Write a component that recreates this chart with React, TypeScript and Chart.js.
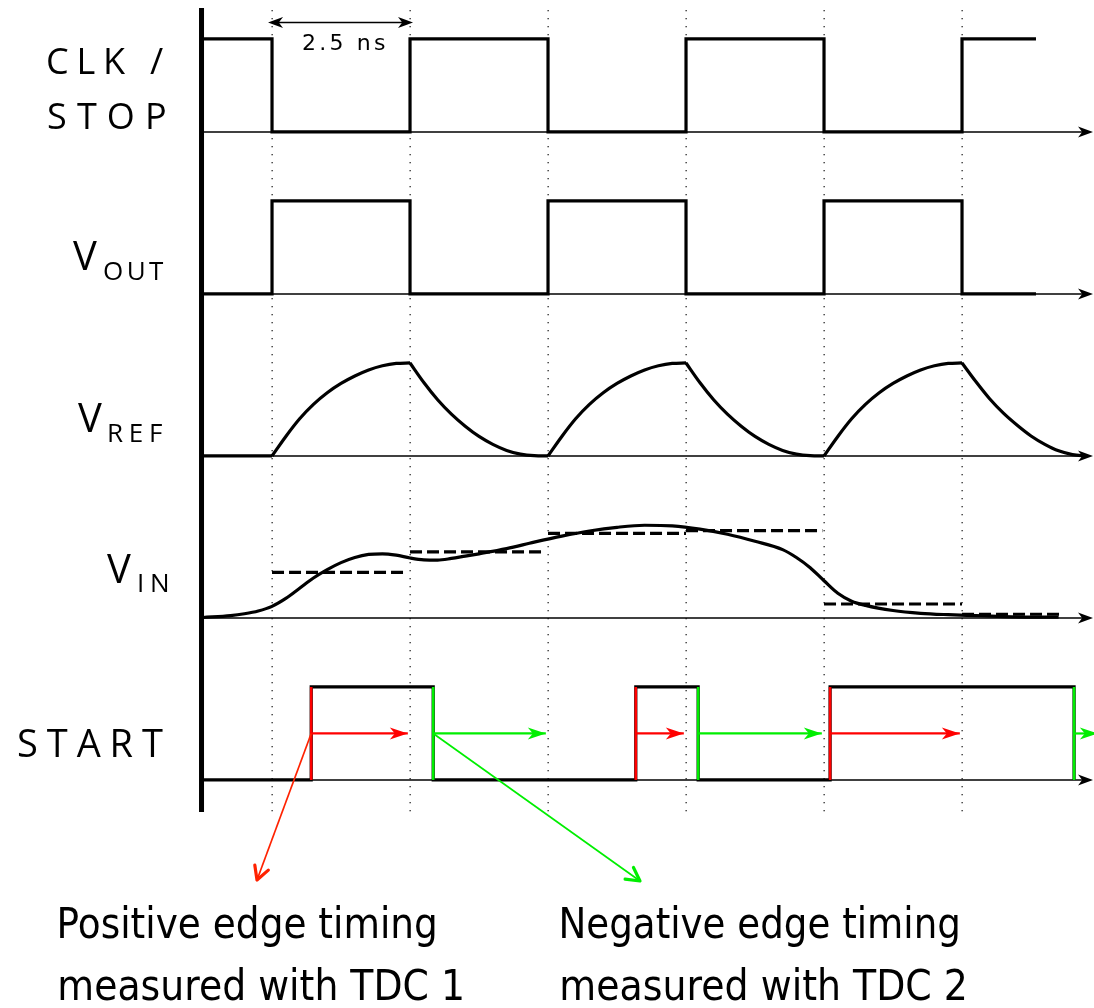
import React, { useEffect, useRef } from "react";
import { Chart, registerables } from "chart.js";

Chart.register(...registerables);

const W = 1094;
const H = 1008;

// Time axis in ns; the clock toggles every 2.5 ns
const X_MIN = -3.678;
const X_MAX = 16.141;
// Vertical axis in units of one logic swing; START lane baseline at 0
const Y_MIN = -2.452;
const Y_MAX = 8.387;
const LANE_GAP = 1.742;

const CLOCK_EDGES = [1.25, 3.75, 6.25, 8.75, 11.25, 13.75, 16.25];

const CLK_TIMES = [0, 1.25, 3.75, 6.25, 8.75, 11.25, 13.75, 15.09];
const CLK_LEVELS = [1, 0, 1, 0, 1, 0, 1, 1];

const VOUT_TIMES = [0, 1.25, 3.75, 6.25, 8.75, 11.25, 13.75, 15.09];
const VOUT_LEVELS = [0, 1, 0, 1, 0, 1, 0, 0];

// Reference ramp: flat, then charge / discharge per half period
const VREF_SEGMENTS: number[][][] = [
  [[0, 0], [1.25, 0]],
  [[1.25, 0], [1.5, 0.21], [1.75, 0.4], [2.0, 0.555], [2.25, 0.68], [2.5, 0.78], [2.75, 0.86], [3.0, 0.925], [3.25, 0.97], [3.5, 0.995], [3.75, 1.0]],
  [[3.75, 1.0], [4.0, 0.79], [4.25, 0.605], [4.5, 0.45], [4.75, 0.32], [5.0, 0.21], [5.25, 0.125], [5.5, 0.06], [5.75, 0.02], [6.0, 0.003], [6.25, 0]],
  [[6.25, 0], [6.5, 0.21], [6.75, 0.4], [7.0, 0.555], [7.25, 0.68], [7.5, 0.78], [7.75, 0.86], [8.0, 0.925], [8.25, 0.97], [8.5, 0.995], [8.75, 1.0]],
  [[8.75, 1.0], [9.0, 0.79], [9.25, 0.605], [9.5, 0.45], [9.75, 0.32], [10.0, 0.21], [10.25, 0.125], [10.5, 0.06], [10.75, 0.02], [11.0, 0.003], [11.25, 0]],
  [[11.25, 0], [11.5, 0.21], [11.75, 0.4], [12.0, 0.555], [12.25, 0.68], [12.5, 0.78], [12.75, 0.86], [13.0, 0.925], [13.25, 0.97], [13.5, 0.995], [13.75, 1.0]],
  [[13.75, 1.0], [14.0, 0.8], [14.25, 0.615], [14.5, 0.46], [14.75, 0.33], [15.0, 0.215], [15.25, 0.125], [15.5, 0.055], [15.75, 0.015], [16.0, 0]],
];

// Analog input
const VIN_TIMES = [0, 0.5, 0.75, 1.0, 1.25, 1.5, 1.75, 2.0, 2.25, 2.5, 2.75, 3.0, 3.25, 3.5, 3.75, 4.0, 4.25, 4.5, 4.75, 5.0, 5.5, 6.0, 6.5, 7.0, 7.5, 8.0, 8.5, 9.0, 9.5, 10.0, 10.5, 10.75, 11.0, 11.25, 11.5, 11.75, 12.0, 12.5, 13.0, 13.5, 14.0, 14.5, 15.0, 15.5];
const VIN_VALUES = [0.005, 0.025, 0.045, 0.075, 0.125, 0.21, 0.32, 0.43, 0.52, 0.595, 0.65, 0.683, 0.69, 0.675, 0.645, 0.625, 0.622, 0.64, 0.665, 0.69, 0.745, 0.815, 0.88, 0.935, 0.975, 0.997, 0.99, 0.955, 0.9, 0.825, 0.735, 0.65, 0.54, 0.4, 0.265, 0.18, 0.135, 0.08, 0.05, 0.035, 0.025, 0.015, 0.01, 0.01];

// Held input level per half period (dashed)
const HOLD_FROM = [1.25, 3.75, 6.25, 8.75, 11.25, 13.75];
const HOLD_TO = [3.7, 6.2, 8.75, 11.22, 13.75, 15.58];
const HOLD_LEVEL = [0.49, 0.71, 0.91, 0.94, 0.15, 0.04];

const START_TIMES = [0, 1.96, 4.17, 7.84, 8.97, 11.36, 15.78];
const START_LEVELS = [0, 1, 0, 1, 0, 1, 0];

const RISE_COLOR = "#ff0000";
const FALL_COLOR = "#00ee00";
const LABEL_FONT = '"Open Sans", "DejaVu Sans", sans-serif';
const NOTE_FONT = '"DejaVu Sans", Verdana, sans-serif';

const lane = (i: number) => i * LANE_GAP; // 0 START, 1 VIN, 2 VREF, 3 VOUT, 4 CLK

function pts(times: number[], vals: number[], off: number) {
  return times.map((t, i) => ({ x: t, y: vals[i] + off }));
}

function stealth(ctx: CanvasRenderingContext2D, x: number, y: number, ang: number, len: number, half: number, color: string) {
  ctx.save();
  ctx.translate(x, y);
  ctx.rotate(ang);
  ctx.beginPath();
  ctx.moveTo(0, 0);
  ctx.lineTo(-len, -half);
  ctx.lineTo(-len * 0.72, 0);
  ctx.lineTo(-len, half);
  ctx.closePath();
  ctx.fillStyle = color;
  ctx.fill();
  ctx.restore();
}

function chevron(ctx: CanvasRenderingContext2D, x: number, y: number, ang: number, len: number, spread: number, color: string, lw: number) {
  ctx.save();
  ctx.translate(x, y);
  ctx.rotate(ang);
  ctx.beginPath();
  ctx.moveTo(-len * Math.cos(spread), -len * Math.sin(spread));
  ctx.lineTo(0, 0);
  ctx.lineTo(-len * Math.cos(spread), len * Math.sin(spread));
  ctx.strokeStyle = color;
  ctx.lineWidth = lw;
  ctx.lineCap = "round";
  ctx.lineJoin = "round";
  ctx.stroke();
  ctx.restore();
}

function drawSpaced(ctx: CanvasRenderingContext2D, text: string, font: string, x0: number, x1: number, base: number) {
  ctx.save();
  ctx.font = font;
  (ctx as any).letterSpacing = "0px";
  ctx.textAlign = "left";
  ctx.textBaseline = "alphabetic";
  const m = ctx.measureText(text);
  const ink = m.actualBoundingBoxLeft + m.actualBoundingBoxRight;
  const n = Array.from(text).length;
  const gap = n > 1 ? (x1 - x0 - ink) / (n - 1) : 0;
  (ctx as any).letterSpacing = `${gap}px`;
  ctx.fillStyle = "#000";
  ctx.fillText(text, x0 + m.actualBoundingBoxLeft, base);
  ctx.restore();
}

function drawFitted(ctx: CanvasRenderingContext2D, text: string, font: string, x0: number, x1: number, base: number) {
  ctx.save();
  ctx.font = font;
  ctx.textAlign = "left";
  ctx.textBaseline = "alphabetic";
  const m = ctx.measureText(text);
  const ink = m.actualBoundingBoxLeft + m.actualBoundingBoxRight;
  const s = (x1 - x0) / ink;
  ctx.translate(x0, base);
  ctx.scale(s, 1);
  ctx.fillStyle = "#000";
  ctx.fillText(text, m.actualBoundingBoxLeft, 0);
  ctx.restore();
}

const diagramPlugin = {
  id: "timingDiagram",
  beforeDatasetsDraw(chart: any) {
    const ctx: CanvasRenderingContext2D = chart.ctx;
    const xs = chart.scales.x;
    const ys = chart.scales.y;
    ctx.save();
    // dotted clock-edge guides
    ctx.fillStyle = "rgba(0,0,0,0.85)";
    for (const t of CLOCK_EDGES) {
      const x = Math.round(xs.getPixelForValue(t)) - 0.5;
      for (let y = 10; y <= 810; y += 8) ctx.fillRect(x, y, 1.3, 1.3);
    }
    // lane baselines with arrow tips
    const x0 = xs.getPixelForValue(0);
    const tip = W - 1;
    for (let i = 0; i < 5; i++) {
      const y = ys.getPixelForValue(lane(i));
      ctx.beginPath();
      ctx.moveTo(x0, y);
      ctx.lineTo(tip - 8, y);
      ctx.strokeStyle = "#000";
      ctx.lineWidth = 1.6;
      ctx.stroke();
      stealth(ctx, tip, y, 0, 15, 5.5, "#000");
    }
    ctx.restore();
  },
  afterDatasetsDraw(chart: any) {
    const ctx: CanvasRenderingContext2D = chart.ctx;
    const xs = chart.scales.x;
    const ys = chart.scales.y;
    ctx.save();
    // arrow heads on the TDC interval arrows
    chart.data.datasets.forEach((ds: any, di: number) => {
      if (!ds.arrowHead) return;
      const meta = chart.getDatasetMeta(di);
      const p = meta.data;
      const a = p[p.length - 2];
      const b = p[p.length - 1];
      const ang = Math.atan2(b.y - a.y, b.x - a.x);
      stealth(ctx, b.x, b.y, ang, 18, 6, ds.borderColor);
    });

    // vertical axis
    const x0 = xs.getPixelForValue(0);
    ctx.fillStyle = "#000";
    ctx.fillRect(x0 - 4, 8, 5, 804);

    // callouts from the first edges to the notes
    const sy = ys.getPixelForValue(0.5);
    const callouts = [
      { t: START_TIMES[1], tx: 257, ty: 880, color: "#ff2200" },
      { t: START_TIMES[2], tx: 640, ty: 881, color: "#00ee00" },
    ];
    for (const c of callouts) {
      const sx = xs.getPixelForValue(c.t);
      ctx.beginPath();
      ctx.moveTo(sx, sy);
      ctx.lineTo(c.tx, c.ty);
      ctx.strokeStyle = c.color;
      ctx.lineWidth = 1.7;
      ctx.stroke();
      chevron(ctx, c.tx, c.ty, Math.atan2(c.ty - sy, c.tx - sx), 15, 0.5, c.color, 3.2);
    }

    // 2.5 ns dimension
    const d0 = xs.getPixelForValue(CLOCK_EDGES[0]) - 4;
    const d1 = xs.getPixelForValue(CLOCK_EDGES[1]) + 3;
    ctx.beginPath();
    ctx.moveTo(d0 + 6, 22.5);
    ctx.lineTo(d1 - 6, 22.5);
    ctx.strokeStyle = "#000";
    ctx.lineWidth = 1.7;
    ctx.stroke();
    stealth(ctx, d1, 22.5, 0, 15, 5.5, "#000");
    stealth(ctx, d0, 22.5, Math.PI, 15, 5.5, "#000");
    drawSpaced(ctx, "2.5 ns", `22px ${NOTE_FONT}`, 303, 385, 50);

    // lane names
    drawSpaced(ctx, "CLK /", `36px ${LABEL_FONT}`, 48, 163, 74);
    drawSpaced(ctx, "STOP", `36px ${LABEL_FONT}`, 48, 165, 129);
    drawSpaced(ctx, "V", `40px ${LABEL_FONT}`, 73, 98, 270);
    drawSpaced(ctx, "OUT", `26px ${LABEL_FONT}`, 104, 164, 280);
    drawSpaced(ctx, "V", `40px ${LABEL_FONT}`, 78, 103, 432);
    drawSpaced(ctx, "REF", `26px ${LABEL_FONT}`, 109, 162, 442);
    drawSpaced(ctx, "V", `40px ${LABEL_FONT}`, 107, 132, 583);
    drawSpaced(ctx, "IN", `26px ${LABEL_FONT}`, 139, 168, 592);
    drawSpaced(ctx, "START", `38px ${LABEL_FONT}`, 18, 163, 757);

    // notes
    drawFitted(ctx, "Positive edge timing", `43px ${NOTE_FONT}`, 60, 435, 938);
    drawFitted(ctx, "measured with TDC 1", `43px ${NOTE_FONT}`, 60, 462, 1000);
    drawFitted(ctx, "Negative edge timing", `43px ${NOTE_FONT}`, 562, 958, 938);
    drawFitted(ctx, "measured with TDC 2", `43px ${NOTE_FONT}`, 562, 965, 1000);
    ctx.restore();
  },
};

function buildDatasets() {
  const ds: any[] = [];
  const base = {
    type: "line",
    pointRadius: 0,
    fill: false,
    borderColor: "#000",
    borderWidth: 3.2,
    borderJoinStyle: "miter",
  };
  // higher "order" is painted first (underneath)
  ds.push({ ...base, order: 6, label: "CLK / STOP", data: pts(CLK_TIMES, CLK_LEVELS, lane(4)), stepped: "before" });
  ds.push({ ...base, order: 6, label: "VOUT", data: pts(VOUT_TIMES, VOUT_LEVELS, lane(3)), stepped: "before" });
  VREF_SEGMENTS.forEach((seg, i) => {
    ds.push({
      ...base,
      order: 6,
      label: `VREF ${i}`,
      data: seg.map(([t, v]) => ({ x: t, y: v + lane(2) })),
      cubicInterpolationMode: "monotone",
      borderJoinStyle: "round",
    });
  });
  HOLD_FROM.forEach((t0, i) => {
    ds.push({
      ...base,
      order: 5,
      label: `VIN held ${i}`,
      data: [
        { x: t0, y: HOLD_LEVEL[i] + lane(1) },
        { x: HOLD_TO[i], y: HOLD_LEVEL[i] + lane(1) },
      ],
      borderDash: [12, 5],
      borderWidth: 3.2,
    });
  });
  ds.push({
    ...base,
    order: 4,
    label: "VIN",
    data: pts(VIN_TIMES, VIN_VALUES, lane(1)),
    cubicInterpolationMode: "monotone",
    borderJoinStyle: "round",
  });
  ds.push({ ...base, order: 3, label: "START", data: pts(START_TIMES, START_LEVELS, lane(0)), stepped: "before" });
  // coloured START edges and the intervals timed by each TDC
  for (let i = 1; i < START_TIMES.length; i++) {
    const t = START_TIMES[i];
    const rising = START_LEVELS[i] > START_LEVELS[i - 1];
    const color = rising ? RISE_COLOR : FALL_COLOR;
    ds.push({
      ...base,
      order: 2,
      label: `edge ${i}`,
      data: [
        { x: t, y: lane(0) },
        { x: t, y: lane(0) + 1 },
      ],
      borderColor: color,
      borderWidth: 2.6,
    });
    const next = CLOCK_EDGES.find((e) => e > t) as number;
    ds.push({
      ...base,
      order: 1,
      label: `interval ${i}`,
      data: [
        { x: t, y: lane(0) + 0.5 },
        { x: next - 0.04, y: lane(0) + 0.5 },
      ],
      borderColor: color,
      borderWidth: 2.2,
      arrowHead: true,
    });
  }
  return ds;
}

export default function App() {
  const ref = useRef<HTMLCanvasElement | null>(null);
  useEffect(() => {
    document.body.style.margin = "0";
    const canvas = ref.current;
    if (!canvas) return;
    const chart = new Chart(canvas, {
      type: "line",
      data: { datasets: buildDatasets() },
      options: {
        responsive: false,
        animation: false,
        devicePixelRatio: 1,
        layout: { padding: 0 },
        plugins: { legend: { display: false }, tooltip: { enabled: false } },
        events: [],
        scales: {
          x: { type: "linear", min: X_MIN, max: X_MAX, display: false },
          y: { type: "linear", min: Y_MIN, max: Y_MAX, display: false },
        },
      },
      plugins: [diagramPlugin],
    } as any);
    return () => chart.destroy();
  }, []);
  return (
    <div style={{ position: "absolute", left: 0, top: 0, width: W, height: H, background: "#fff" }}>
      <canvas ref={ref} width={W} height={H} style={{ display: "block" }} />
    </div>
  );
}
